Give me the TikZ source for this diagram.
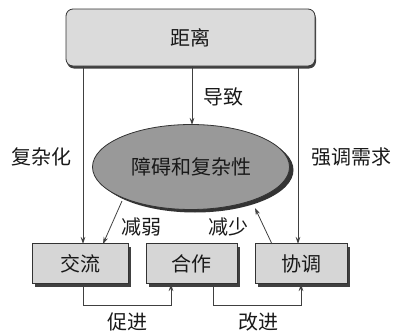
\documentclass[tikz,border=0pt]{standalone}
\usepackage{fontspec}
\setmainfont{Noto Sans CJK SC}
\usetikzlibrary{shapes.geometric,shadows,arrows.meta}
\begin{document}
\begin{tikzpicture}[x=1pt,y=-1pt,
  shd/.style={drop shadow={shadow xshift=3pt,shadow yshift=-3pt,fill=black!75,opacity=1}},
  boxsty/.style={draw=black!80, fill=black!16, line width=0.8pt, minimum height=40pt, inner sep=0pt, shd, font=\fontsize{20}{20}\selectfont, text=black!90},
  topsty/.style={draw=black!80, fill=black!14, line width=0.8pt, rounded corners=7pt, minimum width=249pt, minimum height=57pt, inner sep=0pt, drop shadow={shadow xshift=1pt,shadow yshift=-2.5pt,fill=black!75,opacity=1}, font=\fontsize{20}{20}\selectfont, text=black!90},
  ellsty/.style={ellipse, draw=black!80, fill=black!40, line width=0.8pt, minimum width=197pt, minimum height=85pt, inner sep=0pt, drop shadow={shadow xshift=4pt,shadow yshift=-3pt,fill=black!80,opacity=1}, font=\fontsize{20}{20}\selectfont, text=black!90},
  lbl/.style={font=\fontsize{20}{20}\selectfont, text=black!90, inner sep=0pt},
  conn/.style={draw=black!75, line width=0.8pt, -{Stealth[length=7pt,width=4.5pt]}},
]
\useasboundingbox (0,0) rectangle (399,332);

\node[topsty] (dist) at (190.5,37.5) {距离};
\node[ellsty] (obst) at (191,167) {障碍和复杂性};
\node[boxsty, minimum width=96pt] (comm) at (80,263.5) {交流};
\node[boxsty, minimum width=91pt] (coop) at (191.5,263.5) {合作};
\node[boxsty, minimum width=92pt] (coord) at (301,263.5) {协调};

\coordinate (dl) at (83,66);
\coordinate (dr) at (298,66);
\coordinate (dm) at (192,66);
\coordinate (cl) at (83,244);
\coordinate (cr) at (298,244);
\coordinate (em) at (192,125);
\coordinate (e1) at (122,201);
\coordinate (c1) at (103,244);
\coordinate (c2) at (272,244);
\coordinate (e2) at (255,208);
\coordinate (b1) at (83,284);
\coordinate (b2) at (171,284);
\coordinate (b3) at (213,284);
\coordinate (b4) at (301,284);

\draw[conn] (dl) -- (cl);
\draw[conn] (dr) -- (cr);
\draw[conn] (dm) -- (em);
\draw[conn] (e1) -- (c1);
\draw[conn] (c2) -- (e2);
\draw[conn] (b1) -- (83,305) -- (171,305) -- (b2);
\draw[conn] (b3) -- (213,305) -- (301,305) -- (b4);

\node[lbl] (l1) at (223,97) {导致};
\node[lbl] (l2) at (41,157) {复杂化};
\node[lbl] (l3) at (351,157) {强调需求};
\node[lbl] (l4) at (141,227) {减弱};
\node[lbl] (l5) at (228,227) {减少};
\node[lbl] (l6) at (127.5,322) {促进};
\node[lbl] (l7) at (258,322) {改进};
\end{tikzpicture}
\end{document}
